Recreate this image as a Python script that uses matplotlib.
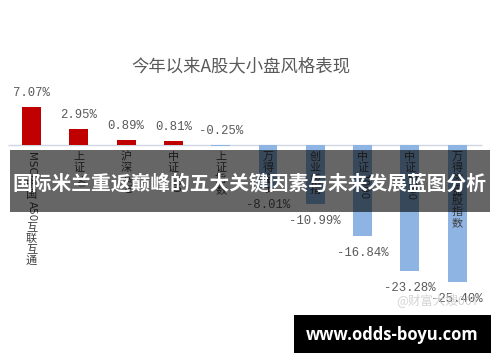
import matplotlib
matplotlib.use("Agg")
import matplotlib.pyplot as plt
from matplotlib.patches import Rectangle

plt.rcParams["font.family"] = ["Noto Sans CJK SC", "DejaVu Sans"]

# Year-to-date returns of A-share style indices (%)
categories = ["MSCI中国A50互联互通", "上证50", "沪深300", "中证100", "上证指数",
              "万得全A", "创业板指", "中证1000", "中证2000", "万得微盘股指数"]
values = [7.07, 2.95, 0.89, 0.81, -0.25, -8.01, -10.99, -16.84, -23.28, -25.40]

title = "今年以来A股大小盘风格表现"
banner = "国际米兰重返巅峰的五大关键因素与未来发展蓝图分析"
site = "www.odds-boyu.com"
watermark = "@财富大嫂007"

RED = "#C00000"
BLUE = "#8EB4E3"
W, H, DPI = 500, 362, 100
PX = 72.0 / DPI  # points per pixel

fig = plt.figure(figsize=(W / DPI, H / DPI), dpi=DPI)
ax = fig.add_axes([0, 0, 1, 1])
ax.set_axis_off()

# scales: ~47.3 px per category, ~5.4 px per percent, zero line 145 px from top
step_px, unit_px, zero_px = 47.3, 5.4, 145
x0 = -31.5 / step_px
ax.set_xlim(x0, x0 + W / step_px)
ax.set_ylim(-(H - zero_px) / unit_px, zero_px / unit_px)

xs = list(range(len(values)))
colors = [RED if v > 0 else BLUE for v in values]
ax.bar(xs, values, width=0.4, color=colors, zorder=2)
ax.hlines(0, x0 + 8 / step_px, x0 + 482 / step_px, color="#D0D6E2", lw=1.0, zorder=1)

# value labels
for x, v in zip(xs, values):
    lbl = f"{v:.2f}%"
    if v > -1:
        off = 14 * PX
        base = max(v, 0)
    else:
        off = -17 * PX
        base = v
    ax.annotate(lbl, (x, base), xytext=(0, off), textcoords="offset points",
                ha="center", va="center", fontsize=8.8, color="#595959",
                family="Liberation Mono", zorder=3)

# vertical category labels: CJK glyphs stacked, Latin/digit runs rotated
fig.canvas.draw()
renderer = fig.canvas.get_renderer()


def split_runs(s):
    runs = []
    for ch in s:
        is_ascii = ord(ch) < 128
        if runs and is_ascii and runs[-1][0]:
            runs[-1][1] += ch
        else:
            runs.append([is_ascii, ch])
    return runs


for x, name in zip(xs, categories):
    offset_px = 7
    for is_ascii, run in split_runs(name):
        if is_ascii:
            t = ax.annotate(run, (x, 0), xytext=(0, -offset_px * PX),
                            textcoords="offset points", ha="center", va="top",
                            rotation=-90, fontsize=7.5, color="#404040",
                            family="DejaVu Sans", zorder=3)
            bb = t.get_window_extent(renderer=renderer)
            offset_px += bb.height + 1
        else:
            ax.annotate(run, (x, 0), xytext=(0, -offset_px * PX),
                        textcoords="offset points", ha="center", va="top",
                        fontsize=8, color="#404040", zorder=3)
            offset_px += 11

# chart title
fig.text(241 / W, 1 - 66 / H, title, ha="center", va="center",
         fontsize=12.5, color="#595959")

# faint watermark
fig.text(438 / W, 1 - 300 / H, watermark, ha="center", va="center",
         fontsize=9, color="#C8C8C8", alpha=0.8, zorder=4)

# translucent headline band
fig.patches.append(Rectangle((10 / W, 1 - 212 / H), 480 / W, 62 / H,
                             transform=fig.transFigure, facecolor="black",
                             alpha=0.6, edgecolor="none", zorder=5))
fig.text(250 / W, 1 - 184 / H, banner, ha="center", va="center",
         fontsize=14.2, fontweight="bold", color="white", zorder=6)

# site box
fig.patches.append(Rectangle((294 / W, 1 - 353 / H), 197 / W, 38 / H,
                             transform=fig.transFigure, facecolor="black",
                             edgecolor="none", zorder=5))
fig.text(392 / W, 1 - 335 / H, site, ha="center", va="center",
         fontsize=12, fontweight="bold", color="white",
         family="Open Sans", zorder=6)

fig.savefig("out.png", dpi=DPI, facecolor="white")
